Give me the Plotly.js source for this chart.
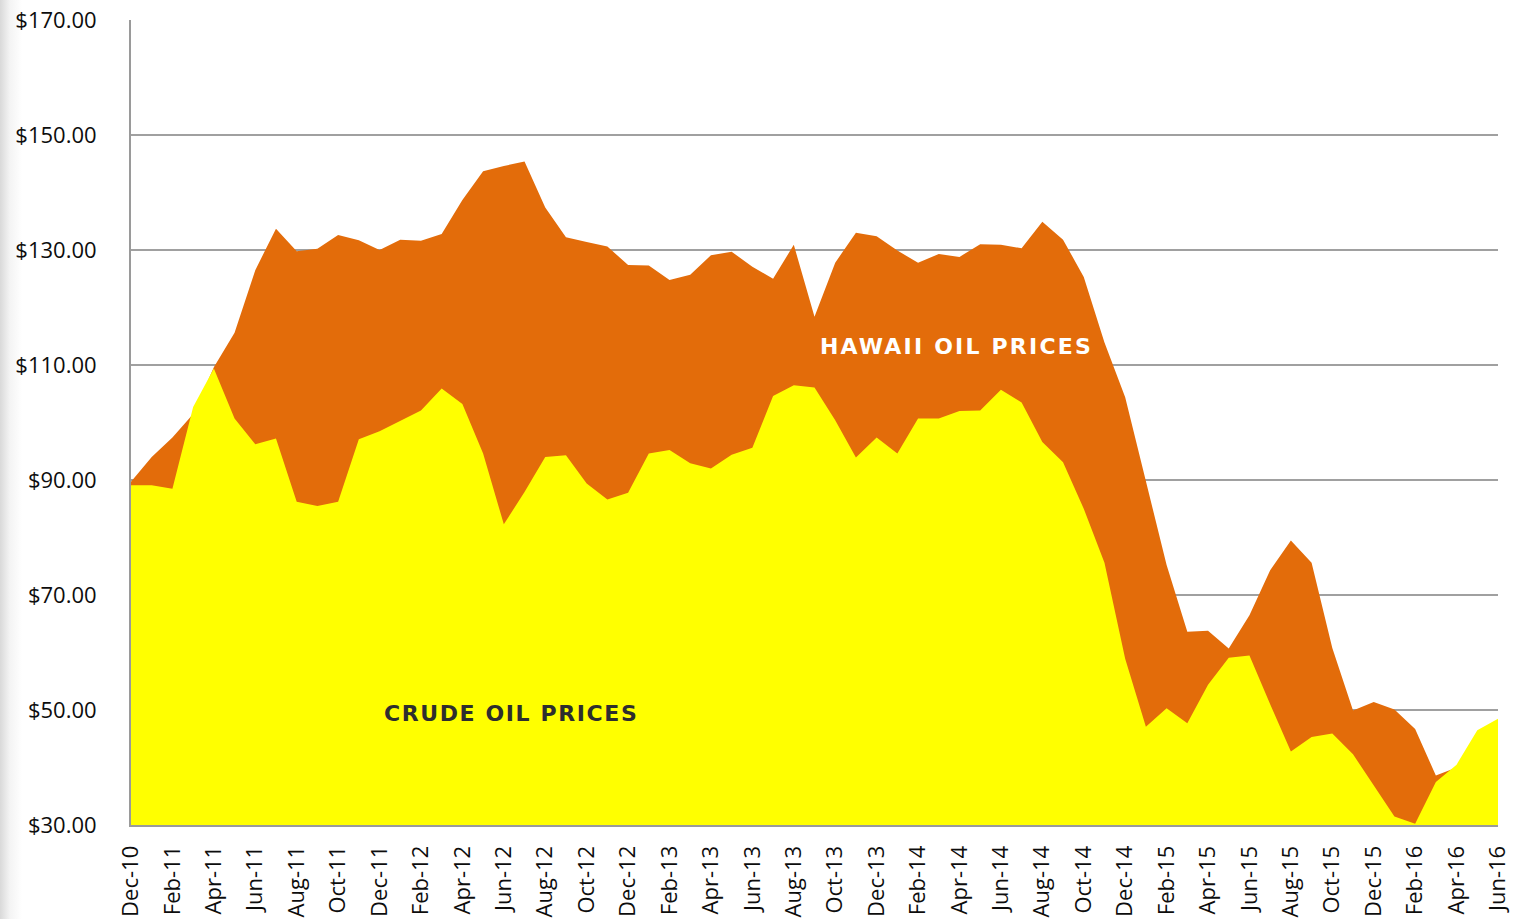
<!DOCTYPE html>
<html>
<head>
<meta charset="utf-8">
<script src="https://cdn.plot.ly/plotly-3.0.1.min.js"></script>
<style>
html,body{margin:0;padding:0;width:1517px;height:919px;overflow:hidden;
background:linear-gradient(to right,#d9d9d9 0px,#f4f4f4 10px,#ffffff 22px);}
#chart{width:1517px;height:919px;}
</style>
</head>
<body>
<div id="chart"></div>
<script>
const months = ["Dec-10","Jan-11","Feb-11","Mar-11","Apr-11","May-11","Jun-11","Jul-11","Aug-11","Sep-11","Oct-11","Nov-11",
"Dec-11","Jan-12","Feb-12","Mar-12","Apr-12","May-12","Jun-12","Jul-12","Aug-12","Sep-12","Oct-12","Nov-12",
"Dec-12","Jan-13","Feb-13","Mar-13","Apr-13","May-13","Jun-13","Jul-13","Aug-13","Sep-13","Oct-13","Nov-13",
"Dec-13","Jan-14","Feb-14","Mar-14","Apr-14","May-14","Jun-14","Jul-14","Aug-14","Sep-14","Oct-14","Nov-14",
"Dec-14","Jan-15","Feb-15","Mar-15","Apr-15","May-15","Jun-15","Jul-15","Aug-15","Sep-15","Oct-15","Nov-15",
"Dec-15","Jan-16","Feb-16","Mar-16","Apr-16","May-16","Jun-16"];

const hawaiiPrices = [89.7,94.0,97.4,101.5,109.6,115.6,126.5,133.7,129.8,130.2,132.6,131.7,
130.0,131.8,131.6,132.8,138.7,143.7,144.6,145.4,137.4,132.2,131.4,130.6,
127.4,127.3,124.8,125.7,129.1,129.7,127.1,125.0,130.9,118.4,127.8,133.0,
132.4,129.9,127.8,129.3,128.8,131.0,130.9,130.3,134.9,131.8,125.3,113.9,
104.4,90.0,75.2,63.6,63.8,60.7,66.5,74.3,79.5,75.6,60.8,49.9,
51.4,50.1,46.7,38.6,40.0,46.0,48.0];

const crudePrices = [89.1,89.1,88.5,102.7,109.4,100.7,96.2,97.2,86.2,85.5,86.2,97.1,
98.5,100.3,102.1,105.9,103.2,94.6,82.3,87.9,94.0,94.3,89.4,86.6,
87.8,94.6,95.2,92.9,92.0,94.4,95.6,104.6,106.5,106.1,100.4,93.9,
97.4,94.6,100.7,100.7,102.0,102.1,105.7,103.5,96.6,93.1,85.0,75.6,
58.9,47.1,50.3,47.7,54.4,59.1,59.5,51.0,42.8,45.3,45.9,42.3,
37.0,31.5,30.2,37.5,40.5,46.5,48.5];

const tickMonths = months.filter((m, i) => i % 2 === 0);
const yTicks = [30,50,70,90,110,130,150,170];
const yTickText = ["$30.00","$50.00","$70.00","$90.00","$110.00","$130.00","$150.00","$170.00"];

const traces = [
  {x: months, y: hawaiiPrices, type: 'scatter', mode: 'lines', name: 'Hawaii Oil Prices',
   fill: 'tozeroy', fillcolor: '#E36C0A', line: {width: 0, color: '#E36C0A'}, hoverinfo: 'x+y'},
  {x: months, y: crudePrices, type: 'scatter', mode: 'lines', name: 'Crude Oil Prices',
   fill: 'tozeroy', fillcolor: '#FFFF00', line: {width: 0, color: '#FFFF00'}, hoverinfo: 'x+y'}
];

const tickFont = {family: '"Open Sans", "Liberation Sans", sans-serif', size: 22, color: '#0d0d0d'};

const layout = {
  width: 1517, height: 919,
  margin: {l: 131, r: 19, t: 20, b: 94, pad: 0},
  paper_bgcolor: 'rgba(0,0,0,0)',
  plot_bgcolor: 'rgba(0,0,0,0)',
  showlegend: false,
  xaxis: {
    type: 'category', range: [0, 66],
    tickmode: 'array', tickvals: tickMonths, ticktext: tickMonths,
    tickangle: -90, tickfont: tickFont, ticks: '', showgrid: false,
    showline: true, linecolor: '#9a9a9a', linewidth: 2, zeroline: false,
    ticklabelstandoff: 10
  },
  yaxis: {
    range: [30, 170], tickmode: 'array', tickvals: yTicks, ticktext: yTickText,
    tickfont: tickFont, ticks: '',
    showgrid: true, gridcolor: '#a0a0a0', gridwidth: 2,
    showline: true, linecolor: '#9a9a9a', linewidth: 2, zeroline: false,
    ticklabelstandoff: 28
  },
  annotations: [
    {xref: 'paper', yref: 'paper', x: 0.604, y: 0.595, xanchor: 'center', yanchor: 'middle',
     text: '<b><span style="letter-spacing:2.2px">HAWAII OIL PRICES</span></b>', showarrow: false,
     font: {family: '"DejaVu Sans", sans-serif', size: 22, color: '#FFFFFF'}},
    {xref: 'paper', yref: 'paper', x: 0.278, y: 0.139, xanchor: 'center', yanchor: 'middle',
     text: '<b><span style="letter-spacing:1.6px">CRUDE OIL PRICES</span></b>', showarrow: false,
     font: {family: '"DejaVu Sans", sans-serif', size: 22, color: '#2E2E2E'}}
  ]
};

Plotly.newPlot('chart', traces, layout, {displayModeBar: false, staticPlot: true});
</script>
</body>
</html>
